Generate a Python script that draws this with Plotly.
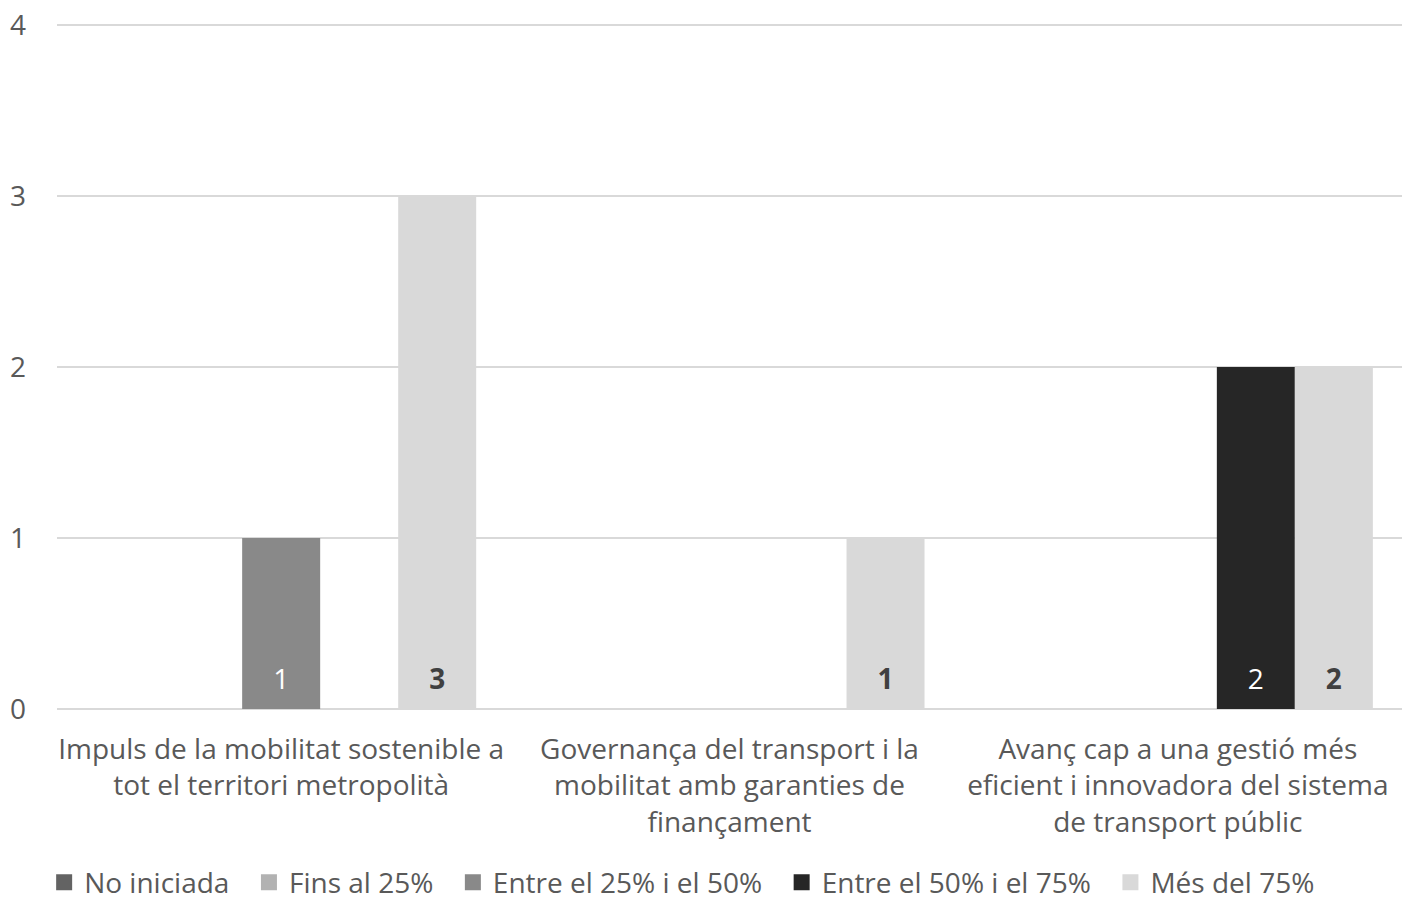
import plotly.graph_objects as go

categories = [
    "Impuls de la mobilitat sostenible a<br>tot el territori metropolità",
    "Governança del transport i la<br>mobilitat amb garanties de<br>finançament",
    "Avanç cap a una gestió més<br>eficient i innovadora del sistema<br>de transport públic",
]
series_names = ["No iniciada", "Fins al 25%", "Entre el 25% i el 50%", "Entre el 50% i el 75%", "Més del 75%"]
no_iniciada = [0, 0, 0]
fins_25 = [0, 0, 0]
entre_25_50 = [1, 0, 0]
entre_50_75 = [0, 0, 2]
mes_75 = [3, 1, 2]
y_ticks = [0, 1, 2, 3, 4]

colors = ["#636363", "#b2b2b2", "#898989", "#262626", "#d9d9d9"]
label_colors = ["#ffffff", "#ffffff", "#ffffff", "#ffffff", "#404040"]
label_bold = [False, False, False, False, True]
values = [no_iniciada, fins_25, entre_25_50, entre_50_75, mes_75]

FONT = "Open Sans"
FS = 28
TXT = "#595959"
LABEL_LIFT = 0.055  # height (axis units) of invisible carrier bars that lift the value labels
NBSP = "\u00a0"

fig = go.Figure()
for i, (name, vals, col) in enumerate(zip(series_names, values, colors)):
    fig.add_trace(go.Bar(
        x=categories, y=vals, name=name, marker_color=col, marker_line_width=0,
        offsetgroup=str(i), showlegend=False, hoverinfo="x+y+name",
    ))
for i, (name, vals, lc, b) in enumerate(zip(series_names, values, label_colors, label_bold)):
    txt = [("<b>%d</b>" % v if b else "%d" % v) if v else "" for v in vals]
    fig.add_trace(go.Bar(
        x=categories, y=[LABEL_LIFT if v else 0 for v in vals], name=name,
        marker_color="rgba(0,0,0,0)", marker_line_width=0,
        offsetgroup=str(i), showlegend=False, hoverinfo="skip",
        text=txt, textposition="outside", constraintext="none", cliponaxis=False,
        textfont=dict(color=lc, size=FS, family=FONT), textangle=0,
    ))
# legend entries with larger square swatches
for name, col in zip(series_names, colors):
    fig.add_trace(go.Scatter(
        x=[None], y=[None], mode="markers", name=name + NBSP * 2,
        marker=dict(symbol="square", size=16, color=col, line_width=0),
        showlegend=True, hoverinfo="skip",
    ))

fig.update_layout(
    width=1402, height=902,
    margin=dict(l=57, r=0, t=23, b=193, autoexpand=False),
    paper_bgcolor="white", plot_bgcolor="white",
    barmode="group", bargap=0.13, bargroupgap=0,
    font=dict(family=FONT, size=FS, color=TXT),
    legend=dict(orientation="h", x=0.47, xanchor="center", y=-0.2164, yanchor="top",
                font=dict(size=FS, color=TXT), itemwidth=30, traceorder="normal"),
    showlegend=True,
)
fig.update_xaxes(showgrid=False, showline=False, ticks="", automargin=False,
                 tickfont=dict(size=FS, color=TXT), ticklabelstandoff=21)
fig.update_yaxes(range=[0, 4.012], tickvals=y_ticks, showgrid=True, gridcolor="#d9d9d9", gridwidth=2,
                 zeroline=True, zerolinecolor="#d9d9d9", zerolinewidth=2, automargin=False,
                 ticklabeloverflow="allow",
                 ticks="", tickfont=dict(size=FS, color=TXT), ticklabelstandoff=30)

fig.write_html("out.html", config={"displayModeBar": False},
               post_script="document.body.style.margin='0';document.body.style.overflow='hidden';")
